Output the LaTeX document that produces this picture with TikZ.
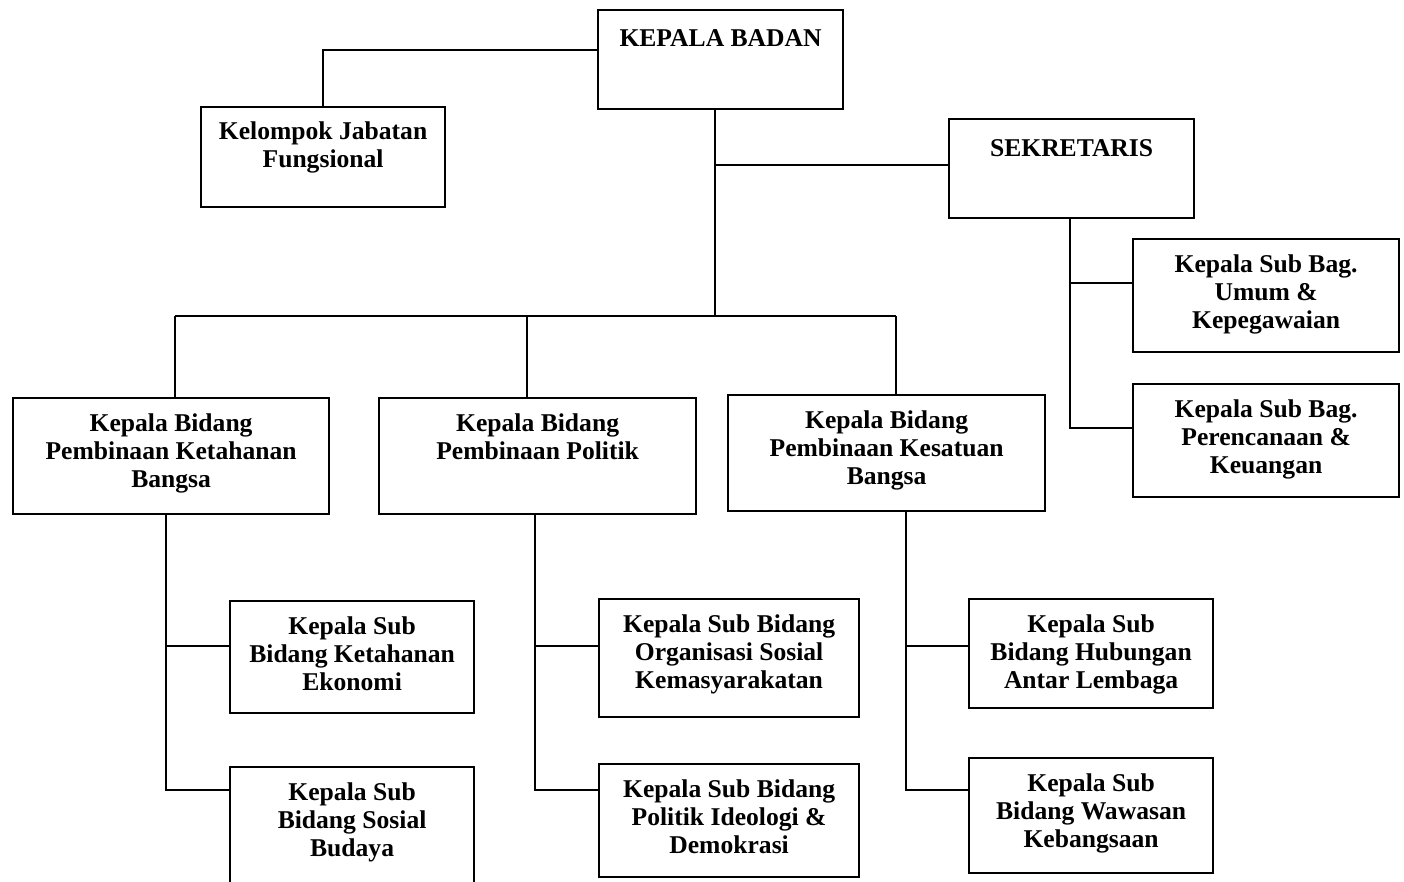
\documentclass[tikz,border=0pt]{standalone}
\usepackage{fontspec}
\setmainfont{Liberation Serif}
\newlength\unitpx
\setlength\unitpx{0.5pt}
% box text: width, height, first baseline, text
\newcommand\isi[4]{\parbox[c][#2\unitpx][t]{#1\unitpx}{\centering\rule{0pt}{#3}#4\par}}
\tikzset{
  unit/.style={draw, line width=1.1pt, inner sep=0pt, anchor=north west,
    font=\fontsize{12.8}{14}\selectfont\bfseries},
  link/.style={line width=1.1pt}
}
\begin{document}
\begin{tikzpicture}[x=\unitpx, y=-\unitpx]
\clip (0,0) rectangle (1404,882);
\node[unit] (badan) at (597,9) {\isi{245}{99}{18pt}{KEPALA BADAN}};
\node[unit] (fungsional) at (200,106) {\isi{244}{100}{16pt}{Kelompok Jabatan\\Fungsional}};
\node[unit] (sekretaris) at (948,118) {\isi{245}{99}{18.5pt}{SEKRETARIS}};
\node[unit] (umum) at (1132,238) {\isi{266}{113}{16.5pt}{Kepala Sub Bag.\\Umum \&\\Kepegawaian}};
\node[unit] (rencana) at (1132,383) {\isi{266}{113}{16.5pt}{Kepala Sub Bag.\\Perencanaan \&\\Keuangan}};
\node[unit] (ketahanan) at (12,397) {\isi{316}{116}{16.5pt}{Kepala Bidang\\Pembinaan Ketahanan\\Bangsa}};
\node[unit] (politik) at (378,397) {\isi{317}{116}{16.5pt}{Kepala Bidang\\Pembinaan Politik}};
\node[unit] (kesatuan) at (727,394) {\isi{317}{116}{16.5pt}{Kepala Bidang\\Pembinaan Kesatuan\\Bangsa}};
\node[unit] (ekonomi) at (229,600) {\isi{244}{112}{16.5pt}{Kepala Sub\\Bidang Ketahanan\\Ekonomi}};
\node[unit] (sosbud) at (229,766) {\isi{244}{124}{16.5pt}{Kepala Sub\\Bidang Sosial\\Budaya}};
\node[unit] (ormas) at (598,598) {\isi{260}{118}{16.5pt}{Kepala Sub Bidang\\Organisasi Sosial\\Kemasyarakatan}};
\node[unit] (ideologi) at (598,763) {\isi{260}{113}{16.5pt}{Kepala Sub Bidang\\Politik Ideologi \&\\Demokrasi}};
\node[unit] (lembaga) at (968,598) {\isi{244}{109}{16.5pt}{Kepala Sub\\Bidang Hubungan\\Antar Lembaga}};
\node[unit] (wawasan) at (968,757) {\isi{244}{115}{16.5pt}{Kepala Sub\\Bidang Wawasan\\Kebangsaan}};
% junctions
\coordinate (kfl) at (323,50);
\coordinate (stem) at (715,165);
\coordinate (bus) at (715,316);
\coordinate (d1) at (175,316);
\coordinate (d2) at (527,316);
\coordinate (d3) at (896,316);
\coordinate (s1) at (1070,283);
\coordinate (s2) at (1070,428);
\coordinate (k1) at (166,646);
\coordinate (k2) at (166,790);
\coordinate (p1) at (535,646);
\coordinate (p2) at (535,790);
\coordinate (b1) at (906,646);
\coordinate (b2) at (906,790);
% connectors
\draw[link](badan.west |- kfl) -- (kfl) -- (kfl |- fungsional.north);
\draw[link](badan.south -| bus) -- (bus);
\draw[link](stem) -- (stem -| sekretaris.west);
\draw[link](d1) -- (d3);
\draw[link](d1) -- (d1 |- ketahanan.north);
\draw[link](d2) -- (d2 |- politik.north);
\draw[link](d3) -- (d3 |- kesatuan.north);
\draw[link](s1 |- sekretaris.south) -- (s2) -- (s2 -| rencana.west);
\draw[link](s1) -- (s1 -| umum.west);
\draw[link](k1 |- ketahanan.south) -- (k2) -- (k2 -| sosbud.west);
\draw[link](k1) -- (k1 -| ekonomi.west);
\draw[link](p1 |- politik.south) -- (p2) -- (p2 -| ideologi.west);
\draw[link](p1) -- (p1 -| ormas.west);
\draw[link](b1 |- kesatuan.south) -- (b2) -- (b2 -| wawasan.west);
\draw[link](b1) -- (b1 -| lembaga.west);
\end{tikzpicture}
\end{document}
